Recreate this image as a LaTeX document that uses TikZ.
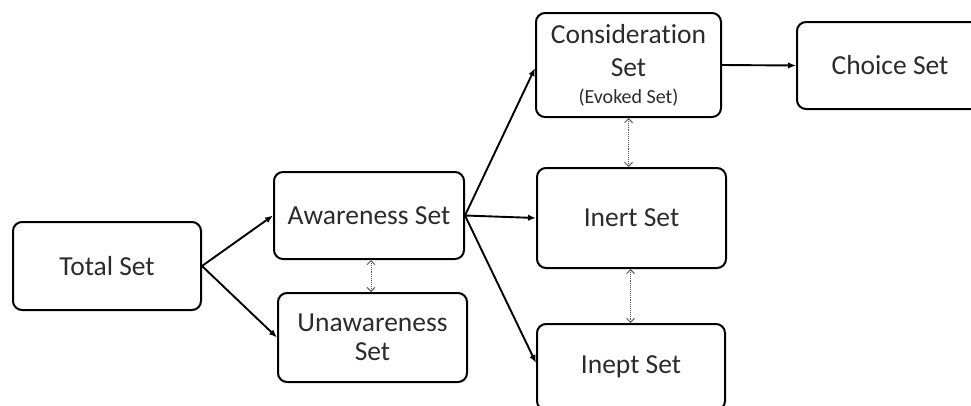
\documentclass[tikz,border=0pt]{standalone}
\usepackage{fontspec}
\setmainfont[Ligatures=NoCommon]{Carlito}
\usetikzlibrary{arrows.meta}
\definecolor{txt}{HTML}{2B2B2B}
\tikzset{
  setbox/.style={draw=black, line width=2pt, rounded corners=9pt, align=center,
    text=txt, font=\fontsize{27.5}{29}\selectfont, inner sep=0pt},
  mainarrow/.style={line width=1.9pt, -{Latex[length=8pt,width=6.5pt]}},
  linkarrow/.style={draw=black!65, line width=0.9pt, densely dotted,
    {Straight Barb[length=4pt,width=8pt]}-{Straight Barb[length=4pt,width=8pt]}}
}
\begin{document}
\begin{tikzpicture}[x=1pt,y=-1pt]
\useasboundingbox (0,0) rectangle (971,405);
\clip (0,0) rectangle (971,405);
\node[setbox, minimum width=188pt, minimum height=88pt] (total) at (107,266) {Total Set};
\node[setbox, minimum width=190pt, minimum height=87pt] (aware) at (369,215.5) {Awareness Set};
\node[setbox, minimum width=189pt, minimum height=89pt] (unaware) at (372.5,337.5) {Unawareness\\Set};
\node[setbox, minimum width=185pt, minimum height=104pt] (cons) at (628.5,65) {Consideration\\[4pt]Set\\[-2pt]{\fontsize{20}{22}\selectfont (Evoked Set)}};
\node[setbox, minimum width=186pt, minimum height=87pt] (choice) at (890,65.5) {Choice Set};
\node[setbox, minimum width=189pt, minimum height=100pt] (inert) at (631.5,218) {Inert Set};
\node[setbox, minimum width=188pt, minimum height=86pt] (inept) at (631,367) {Inept Set};
\draw[mainarrow] (total.east) -- (aware.west);
\draw[mainarrow] (total.east) -- (unaware.west);
\draw[mainarrow] (aware.east) -- ([yshift=-3pt]cons.west);
\draw[mainarrow] (aware.east) -- (inert.west);
\draw[mainarrow] (aware.east) -- ([yshift=4pt]inept.west);
\draw[mainarrow] (cons.east) -- (choice.west);
\draw[linkarrow] ([xshift=2pt]aware.south) -- ([xshift=2pt]aware.south |- unaware.north);
\draw[linkarrow] (cons.south) -- (cons.south |- inert.north);
\draw[linkarrow] ([xshift=-1pt]inert.south) -- ([xshift=-1pt]inert.south |- inept.north);
\end{tikzpicture}
\end{document}
